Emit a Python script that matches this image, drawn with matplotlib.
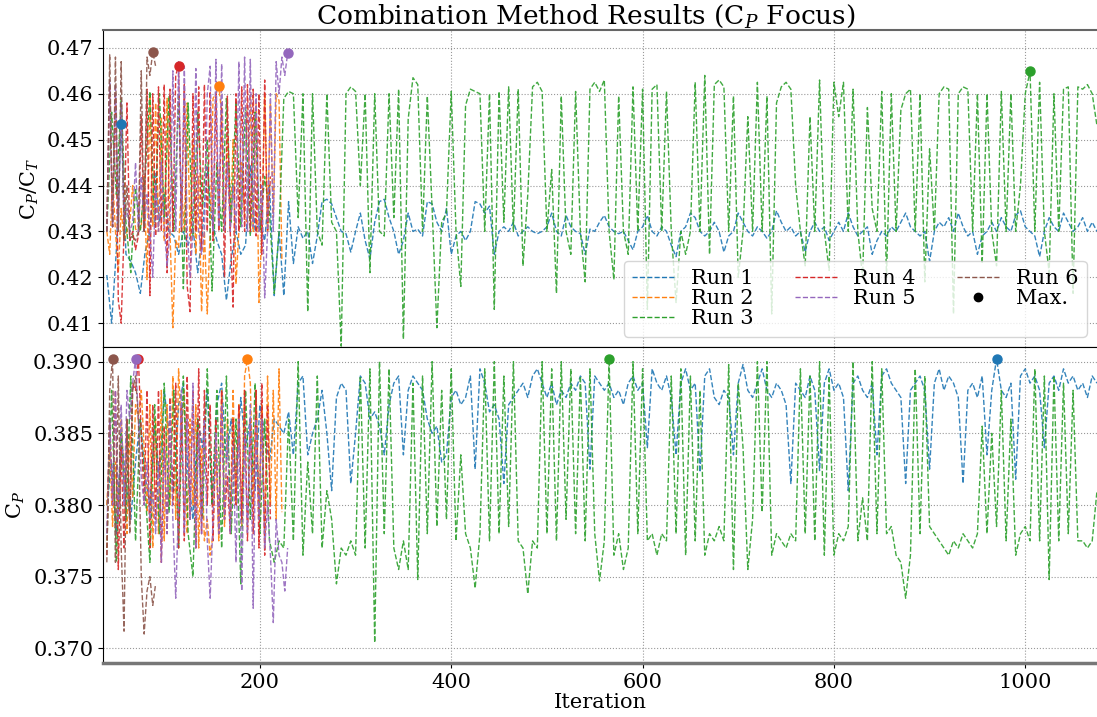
import numpy as np
import matplotlib
matplotlib.use("Agg")
import matplotlib.pyplot as plt
from matplotlib.lines import Line2D

# ---------------- data (values in units of 1e-4) ----------------
iter_long = np.arange(40, 1076, 5)      # Runs 1 and 3
iter_run2 = np.arange(40, 224, 3)
iter_run4 = np.arange(40, 212, 3)
iter_run5 = np.arange(40, 230, 3)
iter_run6 = np.arange(40, 92, 3)

run1_cpct = [4205, 4100, 4260, 4535, 4250, 4235, 4210, 4165, 4255, 4300, 4430, 4320, 4380, 4300, 4290, 4250, 4300, 4270, 4310, 4210,
             4300, 4440, 4320, 4280, 4250, 4150, 4240, 4300, 4250, 4270, 4445, 4300, 4320, 4280, 4400, 4160, 4300, 4160, 4365, 4230,
             4310, 4285, 4300, 4230, 4290, 4365, 4370, 4360, 4330, 4300, 4295, 4255, 4300, 4340, 4280, 4240, 4320, 4365, 4370, 4330,
             4300, 4250, 4280, 4340, 4300, 4305, 4290, 4365, 4360, 4320, 4300, 4350, 4250, 4290, 4300, 4280, 4300, 4365, 4360, 4340,
             4355, 4250, 4300, 4310, 4300, 4320, 4290, 4300, 4310, 4300, 4295, 4300, 4310, 4340, 4300, 4290, 4335, 4310, 4300, 4295,
             4250, 4305, 4300, 4320, 4335, 4310, 4300, 4295, 4300, 4280, 4260, 4300, 4310, 4335, 4300, 4290, 4310, 4300, 4270, 4245,
             4300, 4310, 4340, 4330, 4300, 4290, 4300, 4320, 4300, 4255, 4290, 4300, 4340, 4320, 4300, 4290, 4310, 4300, 4285, 4300,
             4345, 4320, 4300, 4310, 4290, 4300, 4255, 4300, 4320, 4300, 4310, 4280, 4300, 4320, 4300, 4340, 4310, 4290, 4300, 4310,
             4250, 4280, 4300, 4290, 4310, 4300, 4320, 4340, 4310, 4300, 4290, 4300, 4235, 4300, 4320, 4310, 4330, 4300, 4340, 4310,
             4290, 4300, 4250, 4290, 4300, 4320, 4300, 4330, 4310, 4300, 4335, 4345, 4310, 4300, 4290, 4245, 4300, 4330, 4310, 4300,
             4340, 4320, 4300, 4310, 4330, 4300, 4320, 4300]
run3_cpct = [4300, 4560, 4380, 4590, 4320, 4210, 4395, 4300, 4420, 4605, 4310, 4600, 4330, 4595, 4300, 4600, 4175, 4580, 4290, 4560,
             4350, 4500, 4170, 4450, 4300, 4590, 4320, 4585, 4310, 4570, 4290, 4560, 4300, 4420, 4340, 4165, 4300, 4590, 4605, 4600,
             4330, 4600, 4125, 4600, 4300, 4270, 4600, 4320, 4300, 4050, 4600, 4615, 4605, 4400, 4600, 4210, 4600, 4300, 4290, 4600,
             4330, 4610, 4065, 4545, 4635, 4620, 4300, 4595, 4350, 4090, 4320, 4340, 4605, 4300, 4180, 4575, 4610, 4605, 4600, 4300,
             4600, 4130, 4605, 4320, 4615, 4300, 4610, 4225, 4380, 4615, 4625, 4605, 4300, 4435, 4165, 4595, 4300, 4250, 4605, 4300,
             4190, 4610, 4625, 4605, 4630, 4300, 4195, 4595, 4300, 4250, 4615, 4300, 4610, 4130, 4610, 4620, 4300, 4605, 4300, 4145,
             4300, 4250, 4300, 4625, 4300, 4640, 4250, 4620, 4630, 4615, 4300, 4595, 4200, 4300, 4550, 4300, 4625, 4300, 4595, 4120,
             4580, 4615, 4625, 4610, 4400, 4300, 4225, 4550, 4300, 4630, 4300, 4215, 4625, 4550, 4625, 4300, 4610, 4300, 4200, 4570,
             4350, 4300, 4605, 4200, 4600, 4300, 4565, 4600, 4610, 4300, 4600, 4190, 4480, 4300, 4600, 4615, 4610, 4120, 4600, 4615,
             4610, 4300, 4600, 4230, 4600, 4300, 4225, 4605, 4300, 4600, 4300, 4400, 4600, 4649, 4300, 4625, 4300, 4210, 4600, 4300,
             4610, 4615, 4165, 4615, 4610, 4620, 4600, 4530]
run2_cpct = [4300, 4250, 4420, 4300, 4210, 4350, 4280, 4300, 4320, 4400, 4305, 4300, 4310, 4420, 4195, 4600, 4310, 4580, 4300, 4550,
             4280, 4590, 4300, 4090, 4280, 4265, 4400, 4300, 4580, 4290, 4500, 4250, 4420, 4125, 4300, 4120, 4300, 4590, 4600, 4617,
             4560, 4300, 4505, 4300, 4500, 4185, 4300, 4450, 4330, 4320, 4600, 4300, 4580, 4145, 4300, 4600, 4300, 4580, 4330, 4600,
             4585, 4240]
run4_cpct = [4300, 4620, 4310, 4600, 4150, 4100, 4300, 4580, 4280, 4300, 4260, 4290, 4550, 4300, 4610, 4160, 4600, 4290, 4615, 4300,
             4620, 4210, 4610, 4300, 4640, 4661, 4300, 4620, 4180, 4125, 4600, 4300, 4615, 4260, 4620, 4300, 4605, 4280, 4600, 4300,
             4580, 4200, 4595, 4300, 4135, 4600, 4300, 4615, 4300, 4620, 4300, 4610, 4290, 4600, 4250, 4630, 4300, 4420]
run5_cpct = [4300, 4630, 4310, 4620, 4300, 4580, 4320, 4350, 4300, 4320, 4450, 4300, 4420, 4300, 4380, 4300, 4200, 4400, 4300, 4450,
             4310, 4225, 4300, 4650, 4300, 4670, 4310, 4660, 4300, 4200, 4300, 4655, 4300, 4250, 4300, 4600, 4660, 4300, 4675, 4310,
             4665, 4300, 4450, 4300, 4400, 4300, 4670, 4310, 4680, 4300, 4675, 4310, 4600, 4300, 4400, 4155, 4300, 4600, 4300, 4670,
             4600, 4680, 4640, 4688]
run6_cpct = [4300, 4685, 4310, 4680, 4300, 4670, 4280, 4400, 4285, 4290, 4280, 4300, 4650, 4300, 4680, 4640, 4691, 4660]

run1_cp = [3800, 3830, 3780, 3850, 3815, 3790, 3830, 3860, 3820, 3800, 3855, 3820, 3880, 3850, 3810, 3870, 3885, 3820, 3790, 3860,
           3840, 3880, 3800, 3870, 3885, 3830, 3860, 3820, 3875, 3840, 3860, 3810, 3870, 3850, 3830, 3860, 3855, 3850, 3865, 3835,
           3885, 3890, 3835, 3850, 3860, 3880, 3850, 3810, 3875, 3885, 3880, 3815, 3850, 3890, 3885, 3860, 3865, 3855, 3835, 3870,
           3885, 3890, 3835, 3880, 3890, 3885, 3880, 3860, 3850, 3855, 3830, 3835, 3875, 3880, 3870, 3875, 3890, 3825, 3895, 3885,
           3865, 3870, 3860, 3815, 3870, 3875, 3880, 3885, 3875, 3890, 3895, 3885, 3875, 3885, 3870, 3880, 3875, 3885, 3880, 3890,
           3885, 3825, 3890, 3885, 3880, 3885, 3875, 3880, 3870, 3885, 3890, 3880, 3885, 3840, 3895, 3885, 3880, 3890, 3875, 3835,
           3885, 3895, 3880, 3885, 3823, 3890, 3895, 3875, 3870, 3880, 3875, 3835, 3885, 3898, 3880, 3875, 3885, 3895, 3880, 3875,
           3885, 3880, 3870, 3815, 3885, 3880, 3875, 3890, 3880, 3824, 3885, 3895, 3880, 3885, 3875, 3810, 3885, 3890, 3880, 3875,
           3885, 3835, 3890, 3895, 3885, 3880, 3875, 3815, 3880, 3885, 3890, 3880, 3825, 3885, 3895, 3880, 3890, 3885, 3875, 3815,
           3880, 3885, 3875, 3890, 3835, 3880, 3902, 3880, 3875, 3885, 3818, 3890, 3895, 3885, 3890, 3880, 3840, 3885, 3890, 3880,
           3895, 3885, 3890, 3880, 3885, 3875, 3890, 3885]
run3_cp = [3770, 3880, 3760, 3850, 3790, 3890, 3775, 3860, 3810, 3760, 3870, 3780, 3885, 3795, 3880, 3770, 3890, 3780, 3750, 3860,
           3790, 3895, 3800, 3880, 3770, 3890, 3780, 3860, 3745, 3880, 3790, 3885, 3780, 3860, 3775, 3760, 3775, 3770, 3860, 3775,
           3900, 3765, 3830, 3780, 3890, 3770, 3810, 3790, 3745, 3770, 3765, 3775, 3765, 3890, 3770, 3895, 3704, 3900, 3780, 3895,
           3770, 3755, 3775, 3755, 3885, 3748, 3890, 3780, 3900, 3785, 3880, 3790, 3895, 3775, 3835, 3780, 3770, 3742, 3780, 3895,
           3775, 3900, 3780, 3890, 3785, 3900, 3775, 3770, 3738, 3775, 3770, 3900, 3780, 3895, 3775, 3900, 3790, 3895, 3780, 3890,
           3775, 3895, 3780, 3747, 3775, 3902, 3765, 3780, 3755, 3770, 3900, 3780, 3895, 3775, 3780, 3765, 3780, 3775, 3890, 3780,
           3895, 3765, 3890, 3775, 3880, 3765, 3780, 3775, 3785, 3775, 3898, 3755, 3885, 3840, 3755, 3790, 3900, 3795, 3900, 3765,
           3780, 3775, 3770, 3780, 3775, 3895, 3780, 3890, 3775, 3900, 3765, 3890, 3765, 3780, 3775, 3785, 3900, 3775, 3805, 3775,
           3900, 3780, 3895, 3780, 3785, 3765, 3760, 3735, 3765, 3895, 3780, 3890, 3785, 3780, 3775, 3770, 3765, 3775, 3770, 3780,
           3775, 3770, 3780, 3855, 3780, 3850, 3785, 3880, 3775, 3860, 3765, 3780, 3785, 3775, 3895, 3775, 3890, 3748, 3890, 3775,
           3885, 3780, 3880, 3775, 3775, 3770, 3775, 3810]
run2_cp = [3800, 3840, 3785, 3830, 3790, 3860, 3820, 3780, 3850, 3805, 3870, 3860, 3880, 3840, 3795, 3870, 3770, 3860, 3780, 3880,
           3775, 3870, 3800, 3890, 3790, 3895, 3850, 3880, 3780, 3860, 3800, 3870, 3770, 3840, 3775, 3790, 3765, 3780, 3840, 3775,
           3880, 3785, 3860, 3790, 3880, 3800, 3870, 3785, 3890, 3902, 3885, 3800, 3880, 3790, 3870, 3780, 3890, 3800, 3880, 3790,
           3895, 3795]
run4_cp = [3765, 3860, 3800, 3880, 3755, 3840, 3770, 3860, 3790, 3885, 3880, 3902, 3850, 3800, 3880, 3770, 3870, 3790, 3880, 3760,
           3855, 3780, 3875, 3800, 3885, 3770, 3870, 3775, 3890, 3790, 3880, 3770, 3895, 3780, 3880, 3800, 3870, 3775, 3860, 3780,
           3880, 3790, 3820, 3780, 3860, 3800, 3870, 3790, 3880, 3775, 3860, 3780, 3880, 3770, 3885, 3765, 3870, 3790]
run5_cp = [3780, 3860, 3800, 3880, 3790, 3870, 3800, 3880, 3860, 3885, 3902, 3860, 3820, 3800, 3830, 3790, 3810, 3780, 3830, 3760,
           3840, 3780, 3870, 3790, 3735, 3800, 3880, 3780, 3860, 3790, 3885, 3770, 3850, 3780, 3860, 3775, 3735, 3790, 3850, 3780,
           3870, 3790, 3850, 3780, 3840, 3760, 3860, 3740, 3850, 3780, 3870, 3728, 3860, 3790, 3860, 3770, 3800, 3765, 3718, 3790,
           3765, 3760, 3740, 3770]
run6_cp = [3760, 3880, 3902, 3760, 3890, 3770, 3712, 3860, 3780, 3880, 3890, 3860, 3750, 3710, 3740, 3750, 3730, 3745]

run_labels = ["Run 1", "Run 2", "Run 3", "Run 4", "Run 5", "Run 6"]
colors = ["#1f77b4", "#ff7f0e", "#2ca02c", "#d62728", "#9467bd", "#8c564b"]

iters = [iter_long, iter_run2, iter_long, iter_run4, iter_run5, iter_run6]
cpct = [run1_cpct, run2_cpct, run3_cpct, run4_cpct, run5_cpct, run6_cpct]
cp = [run1_cp, run2_cp, run3_cp, run4_cp, run5_cp, run6_cp]

# ---------------- style ----------------
plt.rcParams["font.family"] = ["DejaVu Serif"]
plt.rcParams["mathtext.fontset"] = "dejavuserif"

fig = plt.figure(figsize=(10.97, 7.17), dpi=100)
ax1 = fig.add_axes([0.0939, 0.516, 0.9061, 0.4422])
ax2 = fig.add_axes([0.0939, 0.0753, 0.9061, 0.4407], sharex=ax1)

for ax, data in ((ax1, cpct), (ax2, cp)):
    for x, y, c, lab in zip(iters, data, colors, run_labels):
        y = np.asarray(y) * 1e-4
        ax.plot(x, y, linestyle="--", color=c, lw=1.0, alpha=0.9, label=lab)
    for x, y, c in zip(iters, data, colors):
        y = np.asarray(y) * 1e-4
        k = int(np.argmax(y))
        ax.plot(x[k], y[k], "o", color=c, ms=6.5, zorder=5)
    ax.grid(True, linestyle=":", color="#999999", lw=0.8)
    ax.tick_params(labelsize=15)
    ax.spines["right"].set_visible(False)

ax1.set_xlim(36, 1075)
ax1.set_ylim(0.4048, 0.4739)
ax1.set_yticks([0.41, 0.42, 0.43, 0.44, 0.45, 0.46, 0.47])
ax1.set_yticklabels(["0.41", "0.42", "0.43", "0.44", "0.45", "0.46", "0.47"])
ax1.tick_params(axis="x", labelbottom=False, length=0)
ax1.spines["top"].set_color("#666666")
ax1.spines["top"].set_linewidth(1.5)

ax2.set_ylim(0.36898, 0.39102)
ax2.set_yticks([0.370, 0.375, 0.380, 0.385, 0.390])
ax2.set_yticklabels(["0.370", "0.375", "0.380", "0.385", "0.390"])
ax2.set_xticks([200, 400, 600, 800, 1000])
ax2.spines["bottom"].set_color("#777777")
ax2.spines["bottom"].set_linewidth(2.5)

ax1.set_ylabel(r"C$_P$/C$_T$", fontsize=15)
ax2.set_ylabel(r"C$_P$", fontsize=15)
ax2.set_xlabel("Iteration", fontsize=15, labelpad=1)
ax1.set_title(r"Combination Method Results (C$_P$ Focus)", fontsize=19, pad=3, x=0.486)

handles = [Line2D([0], [0], color=c, ls="--", lw=1.0) for c in colors]
handles.append(Line2D([0], [0], color="black", marker="o", ls="none", ms=6))
ax1.legend(handles, run_labels + ["Max."], loc="lower right", ncol=3, fontsize=15,
           handlelength=2.0, columnspacing=2.0, labelspacing=0.05, borderpad=0.4,
           framealpha=0.8)

fig.savefig("out.png", dpi=100)
